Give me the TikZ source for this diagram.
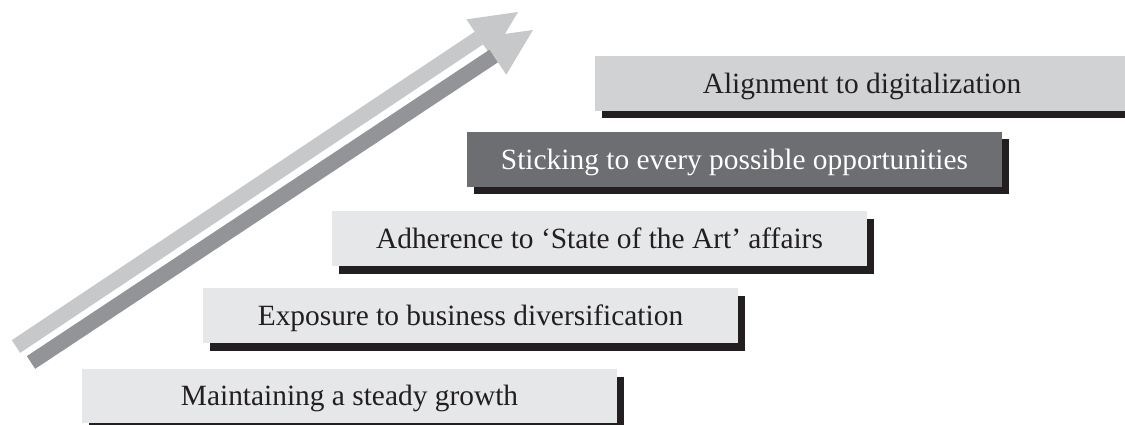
\documentclass[tikz,border=0pt]{standalone}
\usepackage{fontspec}
\setmainfont{Liberation Serif}
\usetikzlibrary{shadows,calc}
\definecolor{boxlight}{HTML}{E6E7E8}
\definecolor{boxmid}{HTML}{D1D2D4}
\definecolor{boxdark}{HTML}{6D6E71}
\definecolor{shadowc}{HTML}{231F20}
\definecolor{arrowlight}{HTML}{C7C8CA}
\definecolor{arrowdark}{HTML}{929497}
\tikzset{
  stepbox/.style={rectangle, inner sep=0pt, minimum height=55pt, minimum width=535pt,
    fill=boxlight, text=shadowc, font=\fontsize{29.4}{33}\selectfont,
    text height=19.5pt, text depth=0pt,
    drop shadow={shadow xshift=7pt, shadow yshift=-7.5pt, fill=shadowc, opacity=1}},
}
\begin{document}
\begin{tikzpicture}[x=1pt,y=-1pt]
\useasboundingbox (0,0) rectangle (1125,425);
\clip (0,0) rectangle (1125,425);
% arrows
\coordinate (t1) at (16,346.5);
\coordinate (p1) at (518,12);
\coordinate (t2) at (31,362.5);
\coordinate (p2) at (533,30);
\coordinate (h1) at ($(p1)!47pt!(t1)$);
\coordinate (h2) at ($(p2)!47pt!(t2)$);
\fill[arrowlight] ($(t1)!7.6pt!90:(p1)$) -- ($(t1)!7.6pt!-90:(p1)$)
  -- ($(h1)!7.6pt!-90:(p1)$) -- ($(h1)!7.6pt!90:(p1)$) -- cycle;
\fill[arrowlight] ($(h1)!22.5pt!90:(p1)$) -- (p1) -- ($(h1)!22.5pt!-90:(p1)$) -- cycle;
\fill[arrowdark] ($(t2)!7.6pt!90:(p2)$) -- ($(t2)!7.6pt!-90:(p2)$)
  -- ($(h2)!7.6pt!-90:(p2)$) -- ($(h2)!7.6pt!90:(p2)$) -- cycle;
\fill[arrowlight] ($(h2)!22.5pt!90:(p2)$) -- (p2) -- ($(h2)!22.5pt!-90:(p2)$) -- cycle;
% boxes
\node[stepbox, minimum height=54pt] (b1) at (349.5,396) {Maintaining a steady growth};
\node[stepbox] (b2) at (470.5,315.5) {Exposure to business diversification};
\node[stepbox] (b3) at (599.5,238.5) {Adherence to ‘State of the Art’ affairs};
\node[stepbox, fill=boxdark, text=white] (b4) at (734.5,159.5) {Sticking to every possible opportunities};
\node[stepbox, fill=boxmid] (b5) at (862,83.5) {Alignment to digitalization};
\end{tikzpicture}
\end{document}
